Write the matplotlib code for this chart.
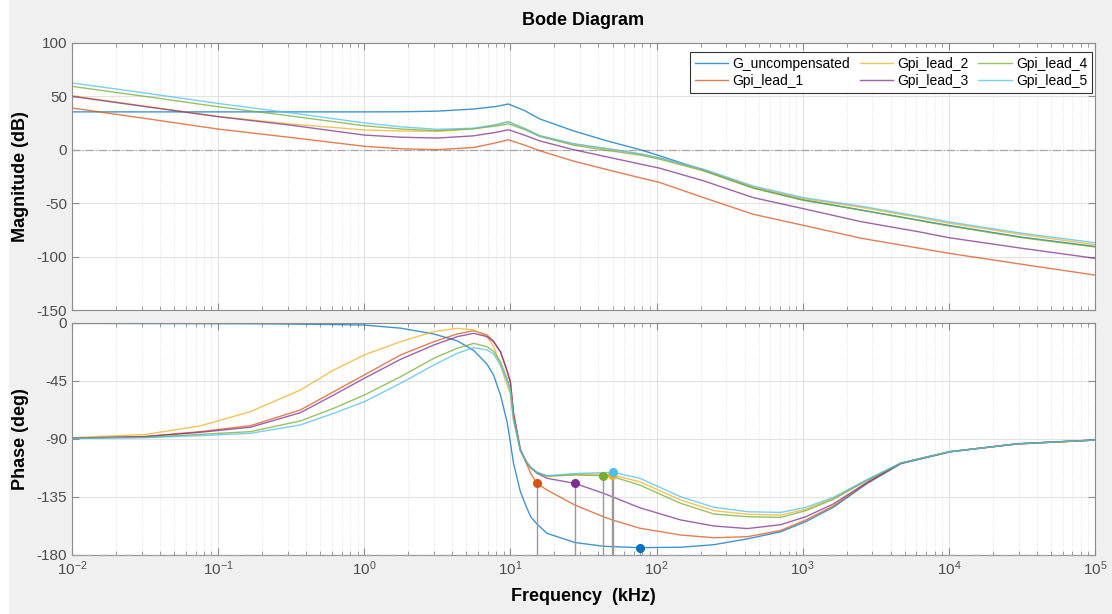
import matplotlib
matplotlib.use("Agg")
import matplotlib.pyplot as plt
from matplotlib.patches import Rectangle
from matplotlib.ticker import FixedLocator, NullFormatter

plt.rcParams["font.family"] = ["Liberation Sans", "DejaVu Sans"]
plt.rcParams["mathtext.default"] = "regular"
plt.rcParams["axes.unicode_minus"] = False

# frequency in kHz
labels = ["G_uncompensated", "Gpi_lead_1", "Gpi_lead_2", "Gpi_lead_3", "Gpi_lead_4", "Gpi_lead_5"]
colors = ["#0072BD", "#D95319", "#EDB120", "#7E2F8E", "#77AC30", "#4DBEEE"]

mag_freq = [0.01, 0.0316, 0.1, 0.316, 1.0, 1.78, 3.16, 5.62, 7.94, 9.68, 12.6, 15.8,
            26.9, 45.7, 77.6, 105, 209, 457, 1000, 2510, 6310, 10000, 31600, 100000]
mag_unc = [35.5, 35.5, 35.5, 35.5, 35.5, 35.6, 36.2, 38.2, 40.5, 42.9, 36.5, 29.0,
           17.8, 8.4, 0.0, -5.6, -19.0, -35.5, -46.8, -56.5, -66.0, -70.8, -81.8, -90.5]
mag_lead1 = [39.1, 29.4, 19.4, 11.5, 3.3, 1.0, 0.1, 2.2, 6.5, 9.4, 4.2, -0.8,
             -10.5, -18.5, -26.3, -30.6, -44.7, -60.3, -70.6, -82.8, -92.2, -96.9, -107.2, -117.3]
mag_lead2 = [50.7, 40.8, 31.2, 24.1, 18.6, 17.6, 17.3, 19.6, 23.3, 26.5, 20.0, 13.2,
             5.5, 1.0, -3.9, -7.8, -18.7, -34.8, -45.7, -53.9, -63.5, -68.7, -79.3, -88.8]
mag_lead3 = [50.0, 40.5, 31.0, 23.0, 13.8, 11.8, 11.0, 13.1, 16.3, 18.8, 13.5, 8.4,
             0.2, -6.6, -13.4, -17.2, -29.0, -44.7, -55.0, -67.3, -76.9, -82.3, -92.2, -101.6]
mag_lead4 = [59.4, 50.0, 40.3, 31.6, 22.5, 19.5, 17.9, 19.8, 22.2, 24.3, 18.8, 12.6,
             4.4, -0.5, -5.0, -8.8, -19.7, -35.9, -47.2, -56.3, -66.4, -71.3, -82.3, -91.0]
mag_lead5 = [62.6, 53.2, 43.4, 34.5, 25.2, 21.5, 19.2, 20.2, 23.5, 26.2, 19.5, 13.3,
             5.8, 1.2, -3.8, -7.5, -18.1, -33.8, -44.7, -52.8, -62.5, -67.5, -78.1, -87.0]

ph_freq = [0.01, 0.0316, 0.0753, 0.166, 0.365, 0.617, 1.0, 1.77, 2.99, 4.32, 5.61, 6.92,
           7.66, 8.55, 9.48, 10.0, 10.5, 11.7, 13.0, 13.8, 15.2, 17.8, 27.6, 43.2, 49.8,
           76.6, 146, 247, 418, 706, 1050, 1620, 2770, 4690, 10200, 29500, 100000]
ph_unc = [-0.3, -0.4, -0.5, -0.6, -0.9, -1.2, -1.6, -4.0, -8.5, -13.8, -21.3, -32.0,
          -40.3, -55.9, -76.6, -93.0, -108.9, -130.9, -144.0, -150.5, -156.0, -163.2, -170.3, -173.2, -173.5,
          -174.3, -174.0, -172.0, -167.5, -162.0, -154.1, -143.0, -124.4, -109.2, -100.0, -93.6, -90.8]
ph_lead1 = [-89.3, -88.0, -84.3, -79.7, -67.5, -53.3, -40.3, -24.8, -14.5, -8.5, -6.0, -9.3,
            -14.0, -22.3, -37.0, -46.0, -70.0, -99.0, -110.0, -117.0, -124.4, -129.6, -141.2, -150.3, -152.8,
            -159.2, -164.5, -166.6, -165.8, -161.0, -152.8, -142.0, -124.0, -108.8, -99.8, -93.8, -90.8]
ph_lead2 = [-89.0, -86.5, -79.9, -68.8, -52.0, -36.5, -24.8, -14.5, -6.7, -4.1, -5.4, -10.6,
            -18.0, -32.6, -48.0, -55.0, -76.0, -99.0, -108.5, -112.0, -116.0, -118.7, -117.5, -117.3, -117.9,
            -123.2, -137.3, -145.6, -148.4, -149.0, -144.5, -136.0, -121.8, -108.8, -99.8, -93.8, -90.8]
ph_lead3 = [-89.3, -88.2, -84.8, -80.9, -69.6, -55.9, -42.9, -28.2, -17.1, -10.6, -8.0, -10.6,
            -14.5, -22.3, -37.0, -46.0, -70.0, -98.0, -109.0, -112.5, -116.5, -120.5, -124.4, -132.1, -134.8,
            -143.3, -152.8, -157.5, -159.5, -156.5, -150.3, -140.4, -123.5, -108.8, -99.8, -93.8, -90.8]
ph_lead4 = [-89.5, -88.7, -86.4, -84.3, -76.0, -66.2, -55.9, -41.7, -27.4, -19.6, -15.8, -18.4,
            -22.0, -30.0, -43.0, -51.0, -73.0, -99.0, -108.5, -112.0, -116.0, -118.9, -117.9, -118.5, -119.2,
            -125.7, -139.9, -148.2, -150.3, -150.8, -145.6, -136.8, -122.0, -108.8, -99.8, -93.8, -90.8]
ph_lead5 = [-89.6, -89.0, -87.4, -85.6, -79.1, -70.1, -61.1, -46.8, -32.6, -23.5, -19.2, -20.9,
            -24.0, -32.6, -45.0, -53.0, -75.0, -99.0, -108.5, -112.0, -115.8, -118.5, -116.8, -116.1, -115.8,
            -120.4, -134.8, -143.0, -146.4, -147.0, -143.0, -135.3, -121.3, -108.5, -99.8, -93.8, -90.8]

# phase margin points (crossover frequency, phase)
pm_freq = [76.6, 15.2, 49.8, 27.6, 43.2, 50.2]
pm_phase = [-174.3, -124.4, -117.9, -124.4, -118.5, -115.8]

decades = [1e-2, 1e-1, 1e0, 1e1, 1e2, 1e3, 1e4, 1e5]

mags = [mag_unc, mag_lead1, mag_lead2, mag_lead3, mag_lead4, mag_lead5]
phases = [ph_unc, ph_lead1, ph_lead2, ph_lead3, ph_lead4, ph_lead5]

W, H = 1112, 614
fig = plt.figure(figsize=(W / 100, H / 100), dpi=100, facecolor="#f0f0f0")
fig.patches.append(Rectangle((0, 0), 8 / W, 1, transform=fig.transFigure,
                             color="white", zorder=-5))

ax_mag = fig.add_axes([72 / W, 1 - 310 / H, 1023 / W, 267 / H])
ax_ph = fig.add_axes([72 / W, 1 - 555 / H, 1023 / W, 232 / H], sharex=ax_mag)

minor = [d * k for d in decades[:-1] for k in range(2, 10)]
edge = "#8c8c8c"
for ax in (ax_mag, ax_ph):
    ax.set_xscale("log")
    ax.set_xlim(1e-2, 1e5)
    ax.xaxis.set_major_locator(FixedLocator(decades))
    ax.xaxis.set_minor_locator(FixedLocator(minor))
    ax.xaxis.set_minor_formatter(NullFormatter())
    ax.grid(which="major", color="#e2e2e2", lw=0.8)
    ax.grid(which="minor", axis="x", color="#e4e4e4", lw=0.7, ls=":")
    ax.set_axisbelow(True)
    ax.tick_params(which="both", direction="in", top=True, right=True,
                   color=edge, labelcolor="#4d4d4d", labelsize=11)
    ax.tick_params(which="major", length=5)
    ax.tick_params(which="minor", length=3)
    for s in ax.spines.values():
        s.set_color(edge)
        s.set_linewidth(0.8)

lines = []
for i in range(len(labels)):
    ln, = ax_mag.plot(mag_freq, mags[i], color=colors[i], lw=1.0, alpha=0.75, label=labels[i])
    lines.append(ln)
    ax_ph.plot(ph_freq, phases[i], color=colors[i], lw=1.0, alpha=0.75)

ax_mag.axhline(0, color="#a6a6a6", ls="-.", lw=0.9, zorder=1.5)
ax_ph.axhline(-180, color="#a6a6a6", ls="-.", lw=0.9, zorder=3, clip_on=False)

ax_ph.vlines(pm_freq, -180, pm_phase, color="#9a9a9a", lw=1.0, zorder=4)
for i in range(len(pm_freq)):
    ax_ph.plot(pm_freq[i], pm_phase[i], "o", color=colors[i], ms=5.5, zorder=5)

ax_mag.set_ylim(-150, 100)
ax_mag.set_yticks([-150, -100, -50, 0, 50, 100])
ax_ph.set_ylim(-180, 0)
ax_ph.set_yticks([-180, -135, -90, -45, 0])
ax_mag.tick_params(labelbottom=False)

ax_mag.set_title("Bode Diagram", fontsize=13, fontweight="bold", pad=13)
ax_mag.set_ylabel("Magnitude (dB)", fontsize=13, fontweight="bold")
ax_ph.set_ylabel("Phase (deg)", fontsize=13, fontweight="bold")
ax_ph.set_xlabel("Frequency  (kHz)", fontsize=13, fontweight="bold", labelpad=7)
ax_mag.yaxis.set_label_coords(-0.042, 0.5)
ax_ph.yaxis.set_label_coords(-0.042, 0.5)

leg = ax_mag.legend(lines, labels, ncol=3, loc="upper right", bbox_to_anchor=(0.997, 0.966),
                    borderaxespad=0, fontsize=10, fancybox=False, framealpha=1,
                    edgecolor="#333333", handlelength=2.4, handletextpad=0.3,
                    columnspacing=0.7, borderpad=0.35, labelspacing=0.2)
leg.get_frame().set_linewidth(0.8)

fig.savefig("out.png", dpi=100, facecolor=fig.get_facecolor())
